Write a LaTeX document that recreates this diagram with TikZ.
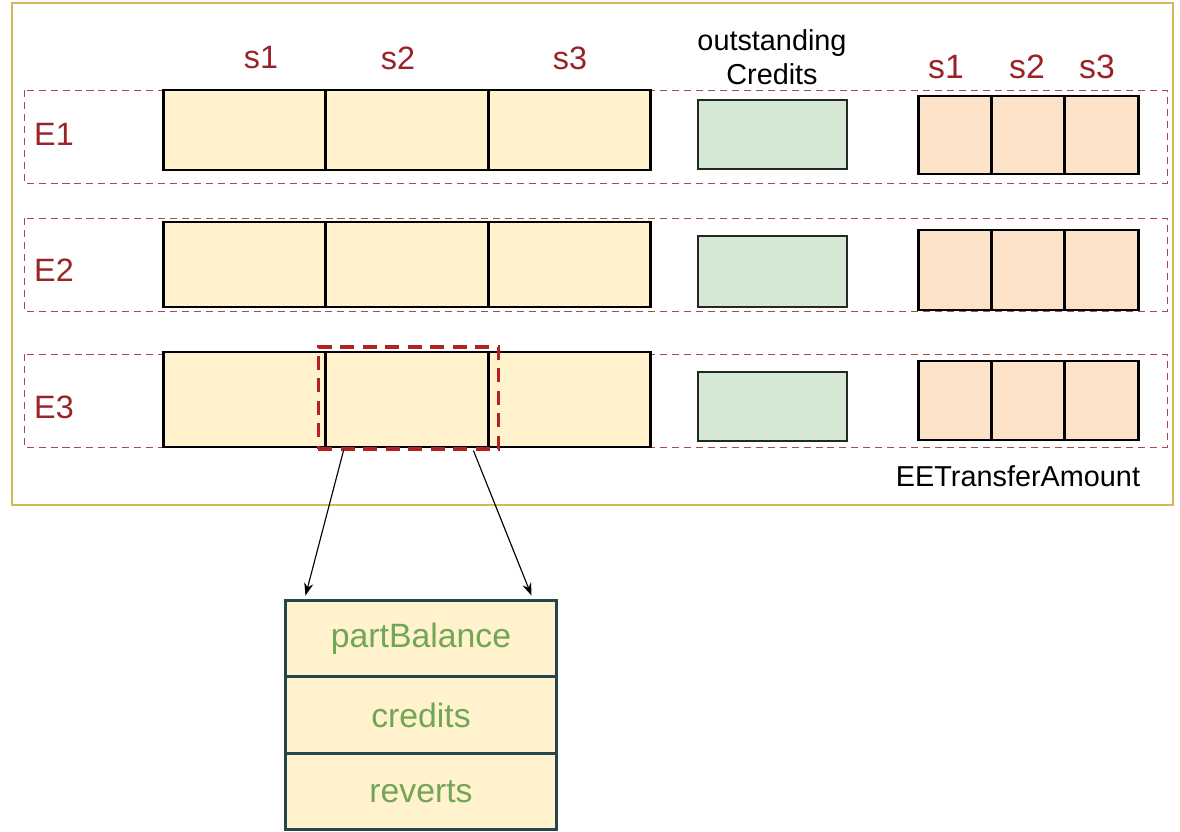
\documentclass[tikz,border=0pt]{standalone}
\usepackage{fontspec}
\setmainfont{Liberation Sans}
\usetikzlibrary{arrows.meta}
\definecolor{lblred}{HTML}{9B2226}
\definecolor{rowred}{HTML}{A8494D}
\definecolor{hired}{HTML}{B22222}
\definecolor{cellyel}{HTML}{FFF2CC}
\definecolor{cellorg}{HTML}{FCE2C6}
\definecolor{cellgrn}{HTML}{D5E8D4}
\definecolor{outgold}{HTML}{D6B656}
\definecolor{boxteal}{HTML}{23474D}
\definecolor{txtgrn}{HTML}{72A657}

\begin{document}
\begin{tikzpicture}[x=0.025cm, y=-0.025cm,
  cell/.style={draw=black, line width=2.1pt, fill=cellyel, inner sep=0pt, minimum width=4.07cm},
  amt/.style={draw=black, line width=2.1pt, fill=cellorg, inner sep=0pt, minimum width=1.83cm},
  oc/.style={draw=black!85, line width=0.9pt, fill=cellgrn, inner sep=0pt, minimum width=3.72cm},
  rowbox/.style={draw=rowred, line width=0.7pt, dash pattern=on 5pt off 3.5pt},
  lbl/.style={text=lblred, font=\fontsize{23}{26}\selectfont},
  part/.style={draw=boxteal, line width=2.1pt, fill=cellyel, minimum width=6.75cm,
    minimum height=1.92cm, text=txtgrn, font=\fontsize{24}{28}\selectfont},
  arr/.style={-{Stealth[length=9pt,width=6.5pt]}, line width=0.8pt}]
  \useasboundingbox (0,0) rectangle (1180,831);
  \draw[outgold, line width=1.2pt] (12,3) rectangle (1173,505);

  % column heads
  \node[lbl] (h1) at (261,58) {s1};
  \node[lbl] (h2) at (398,58) {s2};
  \node[lbl] (h3) at (570,58) {s3};
  \node[align=center, font=\fontsize{20.5}{24}\selectfont] (hoc) at (772,57) {outstanding\\Credits};
  \node[lbl, font=\fontsize{24}{28}\selectfont] (a1) at (946,67) {s1};
  \node[lbl, font=\fontsize{24}{28}\selectfont] (a2) at (1027,67) {s2};
  \node[lbl, font=\fontsize{24}{28}\selectfont] (a3) at (1097,67) {s3};

  % one row per E
  \foreach \r/\ly/\yt/\yb/\yc/\hc/\yg/\hg/\yr/\hr in
      {1/134/90/183/130/80/134.5/69/135/78,
       2/270/218/311/264.5/85/271.5/71/270/80,
       3/407/354/447/399.5/95/406.5/69/400.5/79} {
    \draw[rowbox] (24,\yt) rectangle (1167,\yb);
    \node[lbl] (e\r) at (54,\ly) {E\r};
    \node[cell, minimum height=\hc*0.025cm] (e\r-s1) at (244.5,\yc) {};
    \node[cell, minimum height=\hc*0.025cm] (e\r-s2) at (407,\yc) {};
    \node[cell, minimum height=\hc*0.025cm] (e\r-s3) at (569.5,\yc) {};
    \node[oc, minimum height=\hg*0.025cm] (oc\r) at (772.5,\yg) {};
    \node[amt, minimum height=\hr*0.025cm] (t\r-s1) at (955,\yr) {};
    \node[amt, minimum height=\hr*0.025cm] (t\r-s2) at (1028.5,\yr) {};
    \node[amt, minimum height=\hr*0.025cm] (t\r-s3) at (1101.5,\yr) {};
  }
  \node[font=\fontsize{20.5}{24}\selectfont] (eet) at (1018,476) {EETransferAmount};

  \node[draw=hired, line width=2.2pt, dash pattern=on 10pt off 6pt, inner sep=0pt,
    minimum width=4.52cm, minimum height=2.55cm] (hl) at (408.5,398) {};

  % s2 of E3 opened up
  \node[part] (bal) at (421,638.5) {partBalance};
  \node[part] (cred) at (421,715) {credits};
  \node[part] (rev) at (421,791.5) {reverts};
  \draw[arr] ([xshift=0.675cm]hl.south west) -- ([xshift=0.525cm,yshift=0.075cm]bal.north west);
  \draw[arr] ([xshift=-0.675cm]hl.south east) -- ([xshift=-0.65cm,yshift=0.075cm]bal.north east);
\end{tikzpicture}
\end{document}
